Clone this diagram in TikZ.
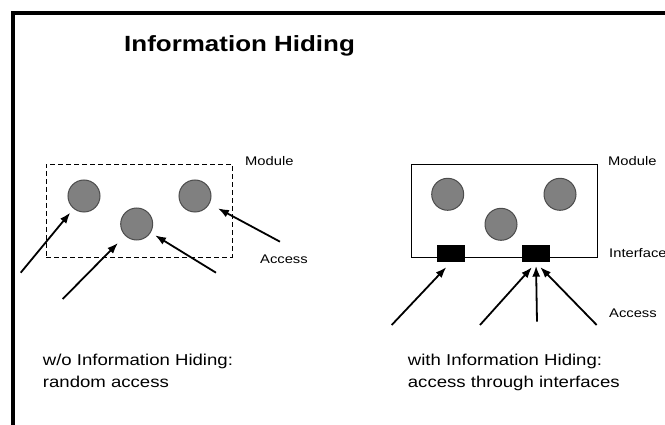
\documentclass[tikz,border=0pt]{standalone}
\usepackage{fontspec}
\setmainfont{Liberation Sans}[FakeStretch=1.18]
\usepackage{tikz}
\usetikzlibrary{positioning}
\usetikzlibrary{arrows.meta}
\definecolor{ballgray}{gray}{0.5}
\definecolor{ballrim}{gray}{0.3}

\begin{document}
\begin{tikzpicture}[x=1pt, y=-1pt, >={Latex[length=11pt, width=8pt]},
  ball/.style={circle, fill=ballgray, draw=ballrim, line width=1pt, minimum size=32pt, inner sep=0pt},
  modbox/.style={draw, line width=0.9pt, minimum width=186pt, minimum height=93pt, inner sep=0pt},
  iface/.style={fill=black, minimum width=28pt, minimum height=17pt, inner sep=0pt},
  acc/.style={->, line width=1.8pt},
  lbl/.style={anchor=base west, inner sep=0pt, font=\fontsize{12.5}{15}\selectfont},
  caption/.style={anchor=base west, inner sep=0pt, align=left, font=\fontsize{15.75}{22}\selectfont}]
\useasboundingbox (0,0) rectangle (665,425);
\draw[line width=4pt] (13,440) -- (13,13) -- (680,13);

\node[anchor=base west, inner sep=0pt, font=\fontsize{22}{26}\selectfont\bfseries] at (124,52) (title) {Information Hiding};

% without information hiding: random access
\node[modbox, dashed, dash pattern=on 5pt off 3pt] at (139,210.5) (modA) {};
\node[ball] at (84,196) (la) {};
\node[ball] at (136.7,224) (lb) {};
\node[ball] at (195,196) (lc) {};

\coordinate (ta1) at (20.7,272.7);
\coordinate (ta2) at (62.7,299);
\coordinate (ta3) at (216,272.7);
\coordinate (ta4) at (280,241.7);
\draw[acc, shorten >=5pt] (ta1) -- (la);
\draw[acc, shorten >=10pt] (ta2) -- (lb);
\draw[acc, shorten >=5pt] (ta3) -- (lb);
\draw[acc, shorten >=9.5pt] (ta4) -- (lc);

\node[lbl] at (245,165.7) (modAlbl) {Module};
\node[lbl] at (260,263.5) (accAlbl) {Access};

% with information hiding: access through interfaces
\node[modbox] at (504,210.5) (modB) {};
\node[ball] at (447.7,194.3) (ra) {};
\node[ball] at (501,224.3) (rb) {};
\node[ball] at (560,194.3) (rc) {};
\node[iface] at (450.5,254) (if1) {};
\node[iface] at (536,254) (if2) {};

\coordinate (tb1) at (391.7,325);
\coordinate (tb2) at (480,325);
\coordinate (tb3) at (537,321.7);
\coordinate (tb4) at (596.7,325);
\draw[acc, shorten >=6pt] (tb1) -- (if1.south);
\draw[acc, shorten >=6pt] (tb2) -- (if2.south);
\draw[acc, shorten >=3pt] (tb3) -- (if2.south);
\draw[acc, shorten >=6pt] (tb4) -- (if2.south);

\node[lbl] at (608,165.7) (modBlbl) {Module};
\node[lbl] at (609,257.7) (ifBlbl) {Interface};
\node[lbl] at (609,318) (accBlbl) {Access};

% base of a two-line node is the last line
\node[caption] at (42.7,388) (capA) {w/o Information Hiding:\\random access};
\node[caption] at (407.7,388) (capB) {with Information Hiding:\\access through interfaces};

\end{tikzpicture}
\end{document}
